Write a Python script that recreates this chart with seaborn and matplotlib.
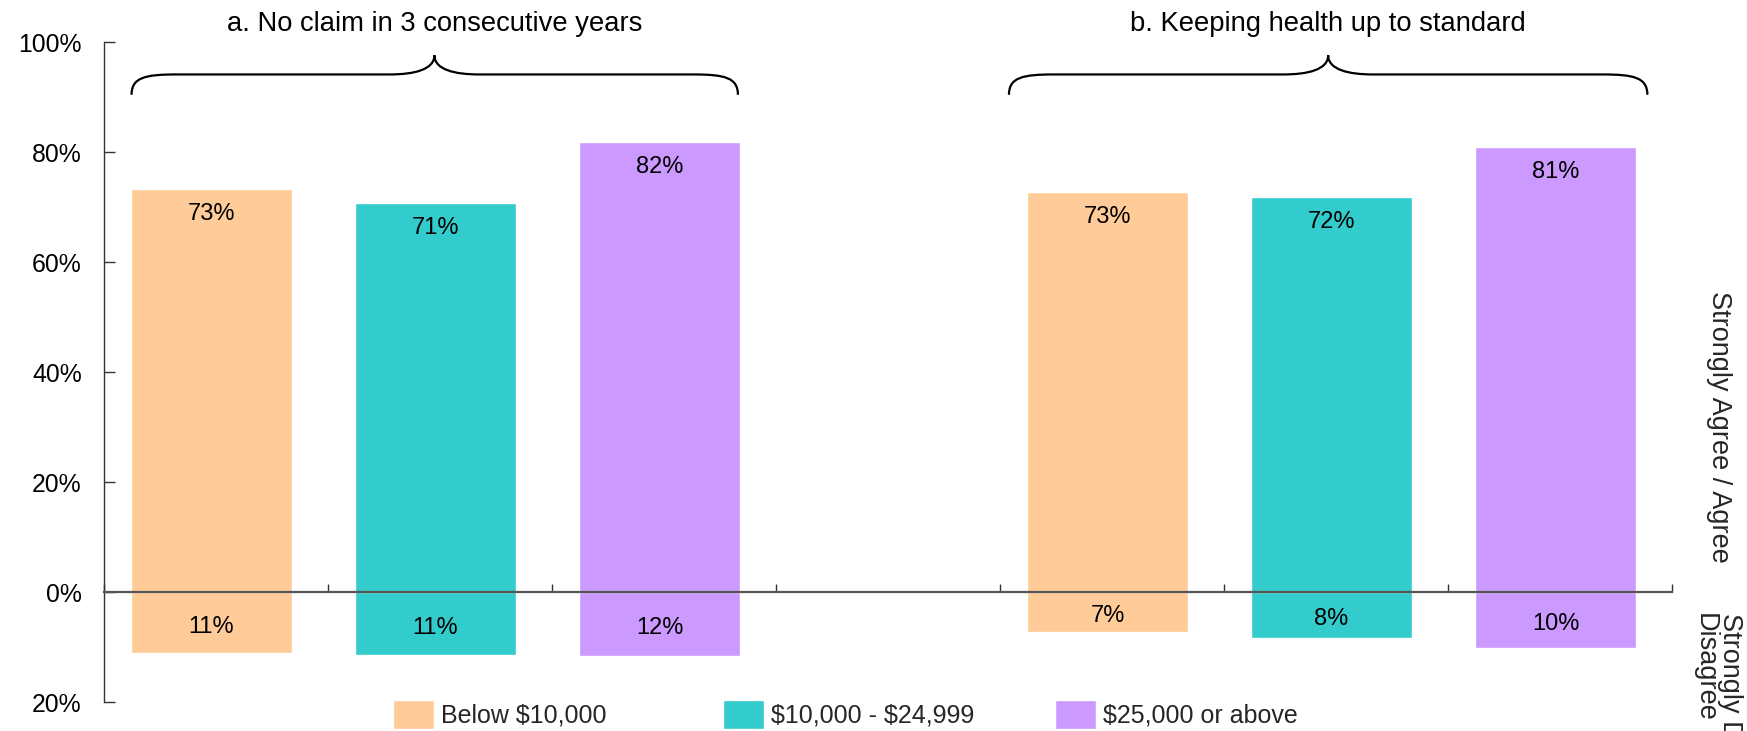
import numpy as np
import pandas as pd
import matplotlib
matplotlib.use("Agg")
import matplotlib.pyplot as plt
import seaborn as sns
from matplotlib.path import Path
from matplotlib.patches import PathPatch
from matplotlib.ticker import FuncFormatter, FixedLocator
import matplotlib.transforms as mtransforms

# ---------------- data ----------------
group_titles = ["a. No claim in 3 consecutive years", "b. Keeping health up to standard"]
incomes = ["Below $10,000", "$10,000 - $24,999", "$25,000 or above"]
agree_a = [73.2, 70.8, 81.9]
agree_b = [72.8, 71.8, 81.0]
disagree_a = [11.1, 11.4, 11.7]
disagree_b = [7.2, 8.4, 10.1]
slots = ["a1", "a2", "a3", "gap", "b1", "b2", "b3"]
yticks = [-20, 0, 20, 40, 60, 80, 100]
right_label_agree = "Strongly Agree / Agree"
right_label_disagree = "Strongly Disagree /\nDisagree"

colors = ["#FFCC99", "#33CCCC", "#CC99FF"]

rows = []
for slot, inc, ag, dis in zip(slots[:3], incomes, agree_a, disagree_a):
    rows.append(dict(slot=slot, income=inc, agree=ag, disagree=-dis))
for slot, inc, ag, dis in zip(slots[4:], incomes, agree_b, disagree_b):
    rows.append(dict(slot=slot, income=inc, agree=ag, disagree=-dis))
df = pd.DataFrame(rows)

# ---------------- figure ----------------
sns.set_style("white")
plt.rcParams["font.family"] = ["Liberation Sans", "DejaVu Sans"]
plt.rcParams["text.parse_math"] = False

fig = plt.figure(figsize=(17.47, 7.31), dpi=100)
ax = fig.add_axes([104 / 1747, 1 - 702 / 731, 1568 / 1747, 660 / 731])

sns.barplot(data=df, x="slot", y="agree", hue="income", order=slots,
            hue_order=incomes, palette=colors, dodge=False, width=0.72,
            saturation=1, errorbar=None, ax=ax, legend=True)
handles, labels = ax.get_legend_handles_labels()
if ax.get_legend() is not None:
    ax.get_legend().remove()
sns.barplot(data=df, x="slot", y="disagree", hue="income", order=slots,
            hue_order=incomes, palette=colors, dodge=False, width=0.72,
            saturation=1, errorbar=None, ax=ax, legend=False)

# bar labels
for _, r in df.iterrows():
    xpos = slots.index(r["slot"])
    ax.annotate(f"{round(r['agree'])}%", xy=(xpos, r["agree"]), xytext=(0, -18),
                textcoords="offset points", ha="center", va="center",
                fontsize=17, color="black")
    ax.annotate(f"{round(-r['disagree'])}%", xy=(xpos, r["disagree"] / 2),
                xytext=(0, -3), textcoords="offset points", ha="center",
                va="center", fontsize=17, color="black")

# axes styling
ax.set_xlim(-0.48, 6.52)
ax.set_ylim(-20, 100)
ax.set_xlabel("")
ax.set_ylabel("")
for s in ["top", "right"]:
    ax.spines[s].set_visible(False)
ax.spines["left"].set_color("#333333")
ax.spines["left"].set_linewidth(1.0)
ax.spines["bottom"].set_position(("data", 0))
ax.spines["bottom"].set_color("#555555")
ax.spines["bottom"].set_linewidth(1.6)
ax.spines["bottom"].set_zorder(5)

ax.yaxis.set_major_locator(FixedLocator(yticks))
ax.yaxis.set_major_formatter(FuncFormatter(lambda v, p: f"{abs(v):.0f}%"))
ax.tick_params(axis="y", direction="in", length=8, width=1, color="#333333",
               labelsize=17.8, pad=16, left=True, labelcolor="black")
ax.xaxis.set_major_locator(FixedLocator(np.arange(-0.48, 7, 1.0)))
ax.set_xticklabels([])
ax.tick_params(axis="x", direction="in", length=6, width=1, color="#333333",
               bottom=True)

# braces
def brace(ax, x0, x1, xm, ye, yh, yt, r=0.2):
    verts = [
        (x0, ye),
        (x0, ye + 0.85 * (yh - ye)), (x0 + 0.3 * r, yh), (x0 + r, yh),
        (xm - r, yh),
        (xm - 0.45 * r, yh), (xm, yh + 0.25 * (yt - yh)), (xm, yt),
        (xm, yh + 0.25 * (yt - yh)), (xm + 0.45 * r, yh), (xm + r, yh),
        (x1 - r, yh),
        (x1 - 0.3 * r, yh), (x1, ye + 0.85 * (yh - ye)), (x1, ye),
    ]
    codes = [Path.MOVETO,
             Path.CURVE4, Path.CURVE4, Path.CURVE4,
             Path.LINETO,
             Path.CURVE4, Path.CURVE4, Path.CURVE4,
             Path.CURVE4, Path.CURVE4, Path.CURVE4,
             Path.LINETO,
             Path.CURVE4, Path.CURVE4, Path.CURVE4]
    ax.add_patch(PathPatch(Path(verts, codes), fill=False, lw=1.6,
                           edgecolor="black", clip_on=False, zorder=6))

brace_specs = [(-0.357, 2.35, 0.995), (3.56, 6.41, 4.985)]
for (x0, x1, xm), title in zip(brace_specs, group_titles):
    brace(ax, x0, x1, xm, ye=90.4, yh=94.1, yt=97.6)
    ax.text(xm, 103.2, title, ha="center", va="center", fontsize=19.7,
            color="black", clip_on=False)

# right-side labels
trans = mtransforms.blended_transform_factory(ax.transAxes, ax.transData)
ax.text(1.030, 30, right_label_agree, rotation=-90, ha="center", va="center",
        fontsize=19.5, transform=trans, clip_on=False)
ax.text(1.029, -3.8, right_label_disagree, rotation=-90, ha="center", va="top",
        multialignment="left", fontsize=19.5, transform=trans, clip_on=False,
        linespacing=0.95)

# legend (one entry per box, placed like the original)
legend_x = [0.2251, 0.4139, 0.6040]
for h, lab, lx in zip(handles, labels, legend_x):
    fig.legend([h], [lab], loc="center left", bbox_to_anchor=(lx, 0.023),
               frameon=False, fontsize=18, handlelength=1.65, handleheight=1.4,
               handletextpad=0.25, borderpad=0, borderaxespad=0)

fig.savefig("out.png", dpi=100)
